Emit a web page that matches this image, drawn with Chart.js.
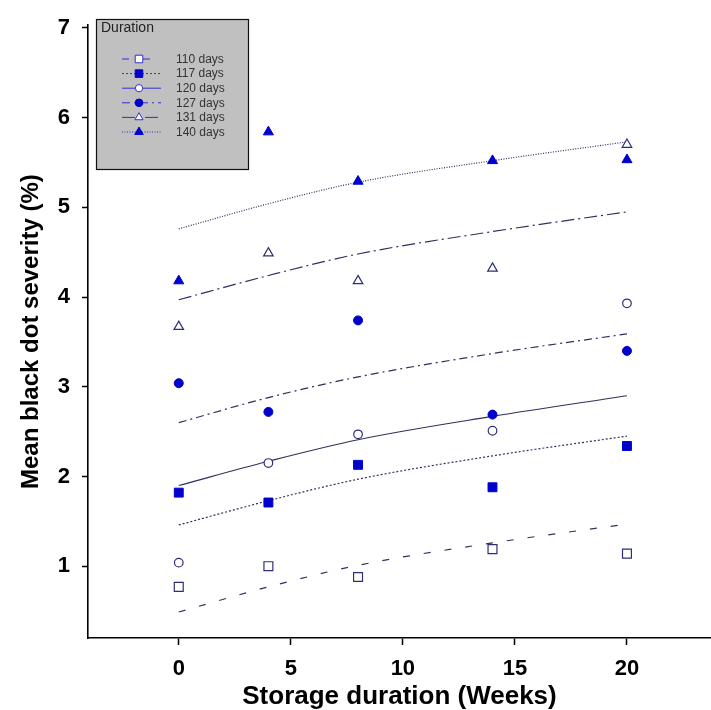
<!DOCTYPE html>
<html>
<head>
<meta charset="utf-8">
<script src="https://cdn.jsdelivr.net/npm/chart.js@4.4.1/dist/chart.umd.min.js"></script>
<style>
  html, body { margin: 0; padding: 0; background: #fff; }
</style>
</head>
<body>
<canvas id="chart" width="711" height="710"></canvas>
<script>
// observed means
const weeks = [0, 4, 8, 14, 20];
const durations = ['110 days', '117 days', '120 days', '127 days', '131 days', '140 days'];
const sev110 = [0.77, 1.00, 0.88, 1.19, 1.14];
const sev117 = [1.82, 1.71, 2.13, 1.88, 2.34];
const sev120 = [1.04, 2.15, 2.47, 2.51, 3.93];
const sev127 = [3.04, 2.72, 3.74, 2.69, 3.40];
const sev131 = [3.67, 4.49, 4.18, 4.32, 5.70];
const sev140 = [4.18, 5.84, 5.29, 5.52, 5.53];

// fitted curves, read at these weeks
const fitWeeks = [0, 4, 8, 14, 20];
const fit110 = [0.49, 0.77, 1.01, 1.26, 1.47];
const fit117 = [1.46, 1.73, 1.97, 2.23, 2.45];
const fit120 = [1.90, 2.17, 2.41, 2.67, 2.90];
const fit127 = [2.60, 2.88, 3.11, 3.37, 3.59];
const fit131 = [3.97, 4.24, 4.48, 4.73, 4.95];
const fit140 = [4.76, 5.04, 5.28, 5.52, 5.73];

const xTicks = [0, 5, 10, 15, 20];
const yTicks = [1, 2, 3, 4, 5, 6, 7];
const legendTitle = 'Duration';

const FONT = 'Arial, "Liberation Sans", sans-serif';
const BLUE = '#0000cc';
const NAVY = '#2e2e78';
const LINE = '#30305e';

const series = [
  { obs: sev110, fit: fit110, style: 'rect', filled: false, dash: [7, 14], radius: 6.3 },
  { obs: sev117, fit: fit117, style: 'rect', filled: true, dash: [2, 2], radius: 6.3 },
  { obs: sev120, fit: fit120, style: 'circle', filled: false, dash: [], radius: 4.3 },
  { obs: sev127, fit: fit127, style: 'circle', filled: true, dash: [8, 4, 2, 4], radius: 4.5 },
  { obs: sev131, fit: fit131, style: 'triangle', filled: false, dash: [13, 4, 2, 4], radius: 5.5 },
  { obs: sev140, fit: fit140, style: 'triangle', filled: true, dash: [1, 1.5], radius: 5.8 }
];

const datasets = [];
series.forEach((s, i) => {
  datasets.push({
    label: durations[i],
    data: weeks.map((w, j) => ({ x: w, y: s.obs[j] })),
    showLine: false,
    pointStyle: s.style,
    pointRadius: s.radius,
    pointBorderWidth: s.filled ? 1 : 1.2,
    pointBackgroundColor: s.filled ? BLUE : '#ffffff',
    pointBorderColor: s.filled ? BLUE : NAVY,
    order: 0
  });
  datasets.push({
    label: durations[i] + ' fit',
    data: fitWeeks.map((w, j) => ({ x: w, y: s.fit[j] })),
    showLine: true,
    pointRadius: 0,
    borderColor: LINE,
    borderWidth: 1.2,
    borderDash: s.dash,
    cubicInterpolationMode: 'monotone',
    order: 1
  });
});

// boxed legend in the top-left corner
const legendBox = {
  id: 'legendBox',
  afterDraw(chart) {
    const ctx = chart.ctx;
    ctx.save();
    ctx.fillStyle = '#c0c0c0';
    ctx.fillRect(96, 19, 152, 150);
    ctx.strokeStyle = '#111';
    ctx.lineWidth = 1.2;
    ctx.strokeRect(96.5, 19.5, 152, 150);
    ctx.fillStyle = '#222';
    ctx.textBaseline = 'middle';
    ctx.font = '14px ' + FONT;
    ctx.fillText(legendTitle, 101, 28);
    ctx.font = '12px ' + FONT;
    series.forEach((s, i) => {
      const y = 59 + i * 14.6;
      ctx.strokeStyle = '#3030d0';
      ctx.lineWidth = 1;
      ctx.setLineDash(s.dash);
      ctx.beginPath();
      ctx.moveTo(122, y);
      ctx.lineTo(161, y);
      ctx.stroke();
      ctx.setLineDash([]);
      ctx.fillStyle = s.filled ? BLUE : '#ffffff';
      ctx.strokeStyle = s.filled ? BLUE : '#3030d0';
      Chart.helpers.drawPoint(ctx, {
        pointStyle: s.style, radius: s.radius * 0.85, rotation: 0, borderWidth: 1
      }, 139, y);
      ctx.fillStyle = '#333';
      ctx.fillText(durations[i], 176, y + 0.5);
    });
    ctx.restore();
  }
};

new Chart(document.getElementById('chart'), {
  type: 'scatter',
  data: { datasets },
  plugins: [legendBox],
  options: {
    responsive: false,
    animation: false,
    layout: { autoPadding: false, padding: { top: 12, left: 0, right: 0, bottom: 0 } },
    plugins: { legend: { display: false }, tooltip: { enabled: false } },
    scales: {
      x: {
        type: 'linear',
        min: -4.05,
        max: 23.75,
        afterFit: s => { s.height = 72; },
        afterBuildTicks: s => { s.ticks = xTicks.map(v => ({ value: v })); },
        grid: { drawOnChartArea: false, drawTicks: true, tickLength: 7, tickColor: '#000', tickWidth: 1.5 },
        border: { display: true, color: '#000', width: 1.6 },
        ticks: { color: '#000', padding: 11, font: { family: FONT, size: 22, weight: 'bold' } },
        title: {
          display: true,
          text: 'Storage duration (Weeks)',
          color: '#000',
          padding: { top: 0, bottom: -2 },
          font: { family: FONT, size: 26, weight: 'bold' }
        }
      },
      y: {
        type: 'linear',
        min: 0.2,
        max: 7.03,
        afterFit: s => { s.width = 88; },
        afterBuildTicks: s => { s.ticks = yTicks.map(v => ({ value: v })); },
        grid: { drawOnChartArea: false, drawTicks: true, tickLength: 6, tickColor: '#000', tickWidth: 1.5 },
        border: { display: true, color: '#000', width: 1.6 },
        ticks: { color: '#000', padding: 12, font: { family: FONT, size: 22, weight: 'bold' } },
        title: {
          display: true,
          text: 'Mean black dot severity (%)',
          color: '#000',
          padding: { top: 17, bottom: 0 },
          font: { family: FONT, size: 24, weight: 'bold' }
        }
      }
    }
  }
});
</script>
</body>
</html>
